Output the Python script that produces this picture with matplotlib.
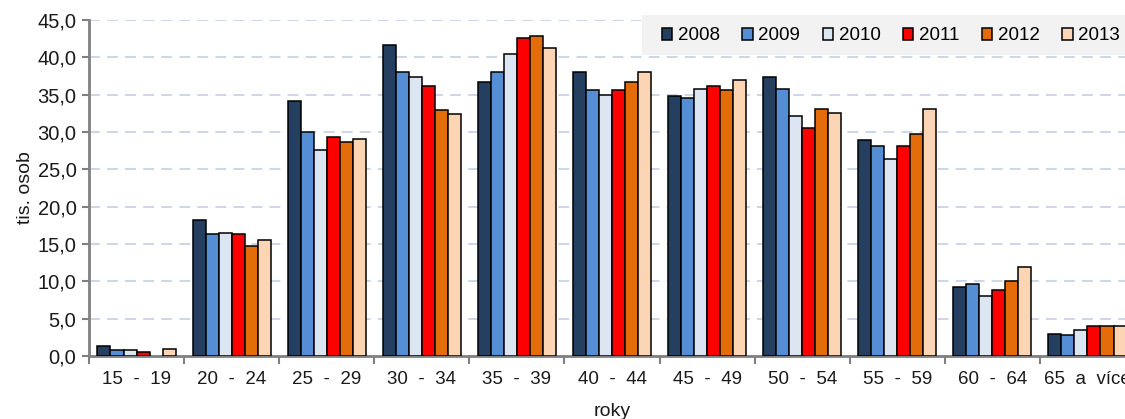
import matplotlib.pyplot as plt
from matplotlib.patches import Rectangle
import numpy as np

plt.rcParams['font.family'] = ['Liberation Sans', 'DejaVu Sans']

# věkové skupiny a počty (tis. osob) podle roku
skupiny = ['15  -  19', '20  -  24', '25  -  29', '30  -  34', '35  -  39', '40  -  44',
           '45  -  49', '50  -  54', '55  -  59', '60  -  64', '65  a  více']
roky = ['2008', '2009', '2010', '2011', '2012', '2013']
r2008 = [1.4, 18.2, 34.1, 41.6, 36.7, 38.0, 34.8, 37.4, 28.9, 9.2, 3.0]
r2009 = [0.8, 16.3, 30.0, 38.0, 38.0, 35.6, 34.6, 35.8, 28.1, 9.6, 2.8]
r2010 = [0.8, 16.5, 27.6, 37.4, 40.4, 35.0, 35.8, 32.2, 26.4, 8.1, 3.5]
r2011 = [0.6, 16.3, 29.3, 36.2, 42.6, 35.6, 36.1, 30.6, 28.1, 8.9, 4.0]
r2012 = [np.nan, 14.7, 28.6, 32.9, 42.8, 36.7, 35.6, 33.1, 29.7, 10.1, 4.0]
r2013 = [0.9, 15.6, 29.0, 32.4, 41.3, 38.0, 37.0, 32.6, 33.1, 11.9, 4.0]
data = [r2008, r2009, r2010, r2011, r2012, r2013]
barvy = ['#243F60', '#558ED5', '#DCE6F2', '#FF0000', '#E46C0A', '#FCD5B5']

W, H = 1125, 419
fig = plt.figure(figsize=(W / 100, H / 100), dpi=100)
ax = fig.add_axes([89 / W, 63 / H, 1046 / W, 336 / H])

x = np.arange(len(skupiny))
w = 0.137
for i, (rok, hodnoty, barva) in enumerate(zip(roky, data, barvy)):
    ax.bar(x + (i - 2.5) * w, hodnoty, w, color=barva, edgecolor='black',
           linewidth=1.1, label=rok, zorder=3)

ax.set_xlim(-0.5, len(skupiny) - 0.5)
ax.set_ylim(0, 45)
ax.set_yticks(np.arange(0, 46, 5))
ax.set_yticklabels([f'{v:.1f}'.replace('.', ',') for v in np.arange(0, 46, 5)])
ax.set_xticks(x)
ax.set_xticklabels(skupiny)
ax.set_xticks(np.arange(-0.5, len(skupiny), 1), minor=True)
ax.tick_params(axis='x', which='major', length=0, pad=11, labelsize=13.5, colors='#1a1a1a')
ax.tick_params(axis='x', which='minor', length=6, width=1.5, color='#808080')
ax.tick_params(axis='y', length=5, width=1.5, color='#808080', labelsize=14.5,
               labelcolor='#1a1a1a', pad=4)

ax.grid(axis='y', color='#C9D3E6', linestyle=(0, (6, 4)), linewidth=1.3, zorder=0)
for s in ['top', 'right']:
    ax.spines[s].set_visible(False)
for s in ['left', 'bottom']:
    ax.spines[s].set_color('#808080')
    ax.spines[s].set_linewidth(2)

ax.set_ylabel('tis. osob', fontsize=14, color='#1a1a1a')
ax.yaxis.set_label_coords(-0.053, 0.5)
ax.set_xlabel('roky', fontsize=14, color='#1a1a1a')
ax.xaxis.set_label_coords(0.5, -0.14)

# šedý podklad legendy
fig.patches.append(Rectangle((642 / W, 1 - 55 / H), 1 - 642 / W, 40 / H,
                             transform=fig.transFigure, facecolor='#F2F2F2',
                             edgecolor='none', zorder=1))
fig.legend(loc='center left', bbox_to_anchor=(662 / W, 1 - 36 / H), ncol=6,
           fontsize=13.5, handlelength=0.55, handleheight=0.55, handletextpad=0.3,
           columnspacing=1.2, borderpad=0, borderaxespad=0, frameon=False)

fig.savefig('out.png', dpi=100)
